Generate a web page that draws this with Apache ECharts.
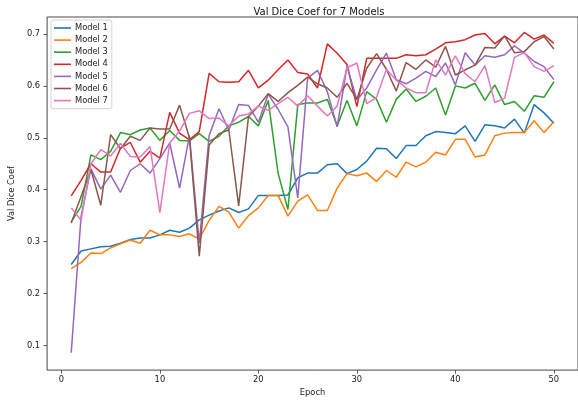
<!DOCTYPE html>
<html>
<head>
<meta charset="utf-8">
<script src="https://cdn.jsdelivr.net/npm/echarts@6/dist/echarts.min.js"></script>
<style>
html,body{margin:0;padding:0;background:#fff;}
#chart{width:578px;height:402px;}
</style>
</head>
<body>
<div id="chart"></div>
<script>
const epochs = [1,2,3,4,5,6,7,8,9,10,11,12,13,14,15,16,17,18,19,20,21,22,23,24,25,26,27,28,29,30,31,32,33,34,35,36,37,38,39,40,41,42,43,44,45,46,47,48,49,50];
const seriesNames = ['Model 1','Model 2','Model 3','Model 4','Model 5','Model 6','Model 7'];
const model1 = [0.256,0.282,0.286,0.290,0.291,0.297,0.304,0.307,0.307,0.313,0.322,0.318,0.326,0.342,0.351,0.359,0.365,0.356,0.363,0.389,0.389,0.389,0.390,0.423,0.432,0.432,0.448,0.450,0.431,0.439,0.455,0.480,0.479,0.460,0.485,0.485,0.504,0.512,0.510,0.508,0.523,0.493,0.525,0.523,0.519,0.536,0.509,0.564,0.548,0.528];
const model2 = [0.248,0.260,0.278,0.277,0.288,0.296,0.303,0.297,0.322,0.313,0.313,0.310,0.315,0.305,0.341,0.368,0.357,0.326,0.350,0.365,0.389,0.389,0.349,0.378,0.390,0.360,0.360,0.403,0.431,0.427,0.432,0.416,0.437,0.424,0.453,0.444,0.453,0.472,0.467,0.497,0.497,0.463,0.467,0.504,0.509,0.510,0.510,0.533,0.510,0.531];
const model3 = [0.338,0.368,0.467,0.458,0.474,0.510,0.506,0.515,0.519,0.495,0.514,0.495,0.494,0.508,0.493,0.503,0.523,0.530,0.541,0.523,0.572,0.432,0.362,0.564,0.567,0.567,0.574,0.523,0.572,0.523,0.589,0.574,0.530,0.574,0.594,0.570,0.580,0.596,0.544,0.600,0.596,0.605,0.572,0.602,0.564,0.570,0.551,0.581,0.578,0.608];
const model4 = [0.388,0.418,0.450,0.434,0.434,0.480,0.491,0.453,0.474,0.461,0.549,0.509,0.496,0.512,0.624,0.608,0.607,0.608,0.630,0.596,0.611,0.631,0.650,0.626,0.623,0.596,0.681,0.663,0.641,0.560,0.653,0.653,0.653,0.653,0.660,0.658,0.660,0.671,0.683,0.685,0.689,0.698,0.701,0.681,0.696,0.683,0.703,0.690,0.698,0.682];
const model5 = [0.086,0.349,0.440,0.401,0.428,0.395,0.437,0.450,0.432,0.460,0.490,0.403,0.504,0.297,0.504,0.556,0.515,0.564,0.562,0.530,0.584,0.555,0.521,0.384,0.615,0.630,0.589,0.521,0.638,0.573,0.596,0.631,0.663,0.612,0.604,0.615,0.628,0.618,0.644,0.602,0.664,0.640,0.658,0.655,0.660,0.677,0.663,0.647,0.637,0.612];
const model6 = [0.336,0.387,0.439,0.370,0.506,0.479,0.503,0.495,0.519,0.517,0.517,0.563,0.500,0.272,0.486,0.508,0.515,0.369,0.541,0.561,0.585,0.570,0.587,0.601,0.617,0.604,0.596,0.578,0.605,0.574,0.634,0.662,0.632,0.590,0.645,0.632,0.650,0.636,0.676,0.621,0.631,0.640,0.674,0.673,0.696,0.664,0.666,0.685,0.695,0.671];
const model7 = [0.365,0.341,0.450,0.477,0.465,0.489,0.464,0.463,0.483,0.356,0.490,0.513,0.547,0.552,0.537,0.538,0.523,0.542,0.546,0.561,0.553,0.566,0.578,0.561,0.581,0.561,0.542,0.561,0.635,0.644,0.566,0.578,0.632,0.611,0.596,0.587,0.587,0.650,0.621,0.658,0.623,0.608,0.639,0.568,0.576,0.655,0.664,0.637,0.628,0.639];
const xTicks = [0,10,20,30,40,50];
const yTicks = [0.1,0.2,0.3,0.4,0.5,0.6,0.7];

const allValues = [model1,model2,model3,model4,model5,model6,model7];
const colors = ['#1f77b4','#ff7f0e','#2ca02c','#d62728','#9467bd','#8c564b','#e377c2'];
const FONT = 'DejaVu Sans';

const chart = echarts.init(document.getElementById('chart'), null, {renderer:'canvas'});
chart.setOption({
  animation: false,
  backgroundColor: '#fff',
  title: {
    text: 'Val Dice Coef for 7 Models',
    left: 314, top: 2, textAlign: 'center',
    textStyle: {fontFamily: FONT, fontSize: 10, fontWeight: 'normal', color: '#111'}
  },
  legend: {
    orient: 'vertical',
    left: 51, top: 20,
    padding: [3, 4, 3, 3],
    itemWidth: 17, itemHeight: 1.6, itemGap: 2.1,
    icon: 'rect',
    borderColor: '#d4d4d4', borderWidth: 1, borderRadius: 2,
    backgroundColor: 'rgba(255,255,255,0.8)',
    textStyle: {fontFamily: FONT, fontSize: 8.3, color: '#222', lineHeight: 10, padding: [0,0,0,-1]},
    data: seriesNames
  },
  grid: {
    left: 46.5, top: 17, right: -4, bottom: 31.3,
    show: true, borderColor: '#333', borderWidth: 0.9, containLabel: false
  },
  xAxis: {
    type: 'value', min: -1.45, max: 52.45,
    name: 'Epoch', nameLocation: 'middle', nameGap: 15,
    nameTextStyle: {fontFamily: FONT, fontSize: 8.3, color: '#222'},
    axisLine: {show: false, onZero: false},
    splitLine: {show: false},
    axisTick: {show: true, length: 3.5, inside: false, customValues: xTicks, lineStyle: {color: '#333', width: 0.8}},
    axisLabel: {customValues: xTicks, margin: 6, fontFamily: FONT, fontSize: 8.3, color: '#222', showMinLabel: true, showMaxLabel: true}
  },
  yAxis: {
    type: 'value', min: 0.0525, max: 0.7327,
    name: 'Val Dice Coef', nameLocation: 'middle', nameGap: 21, nameRotate: 90,
    nameTextStyle: {fontFamily: FONT, fontSize: 8.3, color: '#222'},
    axisLine: {show: false, onZero: false},
    splitLine: {show: false},
    axisTick: {show: true, length: 3.5, inside: false, customValues: yTicks, lineStyle: {color: '#333', width: 0.8}},
    axisLabel: {customValues: yTicks, margin: 7, fontFamily: FONT, fontSize: 8.3, color: '#222',
      formatter: v => v.toFixed(1)}
  },
  series: seriesNames.map((name, k) => ({
    name: name,
    type: 'line',
    showSymbol: false,
    symbol: 'none',
    color: colors[k],
    lineStyle: {width: 1.5, color: colors[k]},
    data: allValues[k].map((v, i) => [epochs[i], v])
  }))
});
</script>
</body>
</html>
